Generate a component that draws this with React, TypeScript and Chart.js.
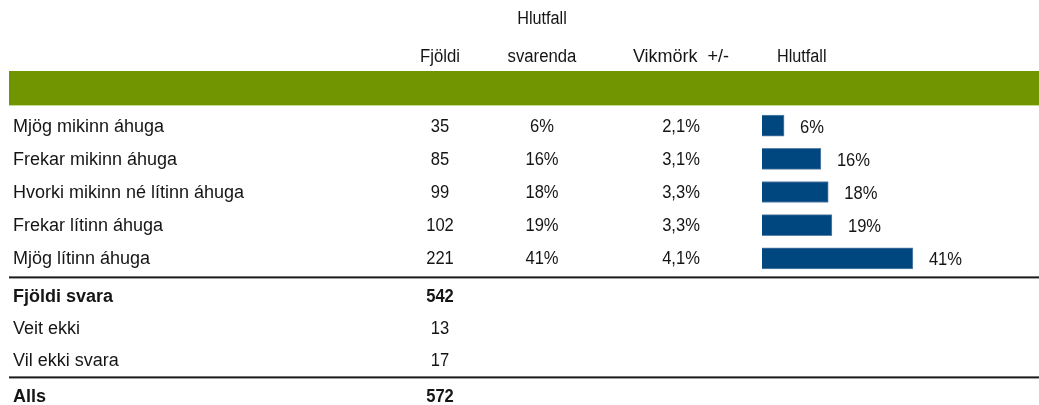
import React, { useEffect, useRef } from "react";
import { Chart, registerables } from "chart.js";

Chart.register(...registerables);

const categories = [
  "Mjög mikinn áhuga",
  "Frekar mikinn áhuga",
  "Hvorki mikinn né lítinn áhuga",
  "Frekar lítinn áhuga",
  "Mjög lítinn áhuga",
];
const counts = [35, 85, 99, 102, 221];
const shares = [6, 16, 18, 19, 41];
const shareLabels = ["6%", "16%", "18%", "19%", "41%"];
const marginLabels = ["2,1%", "3,1%", "3,3%", "3,3%", "4,1%"];
const summaryLabels = ["Fjöldi svara", "Veit ekki", "Vil ekki svara", "Alls"];
const summaryCounts = [542, 13, 17, 572];
const summaryBold = [true, false, false, true];
const headerTop = ["", "Hlutfall", "", ""];
const headerBottom = ["Fjöldi", "svarenda", "Vikmörk  +/-", "Hlutfall"];

const FONT = '"Liberation Sans", Arial, sans-serif';
const FS = 18;
const TEXT = "#151515";
const GREEN = "#719500";
const BLUE = "#00477f";

const tablePlugin = {
  id: "tablePlugin",
  afterDraw(chart: any) {
    const ctx = chart.ctx as CanvasRenderingContext2D;
    const yScale = chart.scales.y;
    const W = chart.width;
    const put = (t: string, x: number, y: number, align: CanvasTextAlign, sx = 0.96) => {
      ctx.textAlign = align;
      const w = ctx.measureText(t).width;
      ctx.fillText(t, x, y, w * sx);
    };
    ctx.save();
    // green band
    ctx.fillStyle = GREEN;
    ctx.fillRect(9, 71, W - 9, 35);
    ctx.fillStyle = "#c9dc96";
    ctx.fillRect(9, 105, W - 9, 1);

    const colX = [440, 542, 681];
    ctx.fillStyle = TEXT;
    ctx.textBaseline = "middle";
    ctx.font = `${FS}px ${FONT}`;
    // headers
    headerTop.forEach((t, i) => {
      if (!t) return;
      put(t, colX[i], 19, "center", 0.9);
    });
    headerBottom.forEach((t, i) => {
      if (i < 3) put(t, colX[i], 57, "center", i === 2 ? 1 : 0.93);
      else put(t, 777, 57, "left", 0.9);
    });

    // data rows
    categories.forEach((c, i) => {
      const y = yScale.getPixelForValue(i) + 1;
      put(c, 13, y, "left", 1);
      put(String(counts[i]), colX[0], y, "center", 0.92);
      put(shareLabels[i], colX[1], y, "center", 0.92);
      put(marginLabels[i], colX[2], y, "center", 0.92);
    });

    // bar value labels
    const meta = chart.getDatasetMeta(0);
    meta.data.forEach((bar: any, i: number) => {
      put(shareLabels[i], bar.x + 16, bar.y + 2, "left", 0.92);
    });

    // lines
    const lastY = yScale.getPixelForValue(categories.length - 1);
    ctx.fillStyle = "#1a1a1a";
    ctx.fillRect(9, lastY + 18, W - 9, 2);
    ctx.fillRect(9, lastY + 118, W - 9, 2);
    const sumY = [lastY + 39, lastY + 71, lastY + 103, lastY + 139];

    ctx.fillStyle = TEXT;
    summaryLabels.forEach((s, i) => {
      ctx.font = `${summaryBold[i] ? "bold " : ""}${FS}px ${FONT}`;
      put(s, 13, sumY[i], "left", summaryBold[i] ? 1.02 : 1);
      put(String(summaryCounts[i]), colX[0], sumY[i], "center", 0.92);
    });
    ctx.restore();
  },
};

export default function App() {
  const ref = useRef<HTMLCanvasElement | null>(null);
  useEffect(() => {
    if (!ref.current) return;
    const chart = new Chart(ref.current, {
      type: "bar",
      data: {
        labels: categories,
        datasets: [
          {
            data: shares,
            backgroundColor: BLUE,
            borderColor: "#5b82a8",
            borderWidth: 1,
            barThickness: 21,
          },
        ],
      },
      options: {
        indexAxis: "y",
        animation: false,
        responsive: false,
        devicePixelRatio: 1,
        layout: { padding: { left: 762, right: 1, top: 109, bottom: 130 } },
        plugins: { legend: { display: false }, tooltip: { enabled: false } },
        scales: {
          x: { display: false, min: 0, max: 75, grid: { display: false } },
          y: { display: false, grid: { display: false } },
        },
      },
      plugins: [tablePlugin],
    });
    return () => chart.destroy();
  }, []);
  return (
    <div style={{ position: "fixed", left: 0, top: 0, width: 1039, height: 405, background: "#fff" }}>
      <canvas ref={ref} width={1039} height={405} style={{ width: 1039, height: 405 }} />
    </div>
  );
}
